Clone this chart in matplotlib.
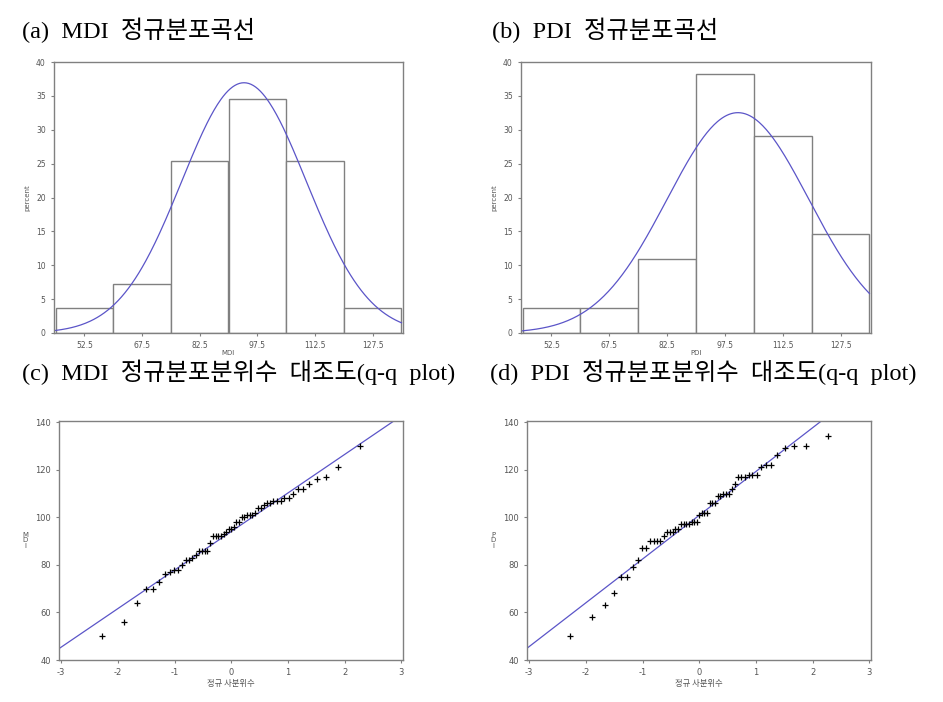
import numpy as np
import matplotlib
matplotlib.use("Agg")
import matplotlib.pyplot as plt

plt.rcParams["axes.unicode_minus"] = False

mdi_values = [50, 56, 64, 70, 70, 73, 76, 77, 78, 78, 80, 82, 82, 83, 84,
              86, 86, 86, 86, 89, 92, 92, 92, 92, 93, 94, 95, 95, 96, 98,
              98, 100, 100, 101, 101, 101, 102, 104, 104, 105, 106, 106, 107, 107, 107,
              108, 108, 110, 112, 112, 114, 116, 117, 121, 130]
pdi_values = [50, 58, 63, 68, 75, 75, 79, 82, 87, 87, 90, 90, 90, 90, 92,
              94, 94, 94, 95, 95, 97, 97, 97, 97, 98, 98, 98, 101, 102, 102,
              102, 106, 106, 106, 109, 109, 110, 110, 110, 112, 114, 117, 117, 117, 118,
              118, 118, 121, 122, 122, 126, 129, 130, 130, 134]
# normal quantiles on the q-q x axis (left half; right half mirrors it)
quant_left = [-2.28, -1.89, -1.67, -1.51, -1.38, -1.27, -1.175, -1.09, -1.01, -0.937,
              -0.869, -0.805, -0.744, -0.685, -0.629, -0.574, -0.522, -0.470, -0.420, -0.371,
              -0.323, -0.276, -0.229, -0.183, -0.137, -0.091, -0.045]
quantiles = quant_left + [0.0] + [-q for q in reversed(quant_left)]

bin_edges = [45, 60, 75, 90, 105, 120, 135]
bin_mids = [52.5, 67.5, 82.5, 97.5, 112.5, 127.5]
hist_yticks = [0, 5, 10, 15, 20, 25, 30, 35, 40]
qq_xticks = [-3, -2, -1, 0, 1, 2, 3]
qq_yticks = [40, 60, 80, 100, 120, 140]

titles = ["(a)  MDI  정규분포곡선", "(b)  PDI  정규분포곡선",
          "(c)  MDI  정규분포분위수  대조도(q-q  plot)", "(d)  PDI  정규분포분위수  대조도(q-q  plot)"]

W, H = 943, 702
CURVE = "#5b55c8"
SPINE = "#808080"
TICK = "#555555"
title_font = ["Liberation Serif", "Noto Sans CJK KR"]


def px_axes(fig, l, t, r, b):
    return fig.add_axes([l / W, 1 - b / H, (r - l) / W, (b - t) / H])


def style(ax, size):
    for s in ax.spines.values():
        s.set_color(SPINE)
        s.set_linewidth(1.0)
    ax.tick_params(colors=SPINE, labelcolor=TICK, labelsize=size, length=2.5, width=0.8)


def hist_panel(ax, values, name):
    vals = np.array(values, dtype=float)
    n = len(vals)
    ax.hist(vals, bins=bin_edges, weights=np.full(n, 100.0 / n),
            facecolor="white", edgecolor=SPINE, linewidth=1.0)
    mu, sd = vals.mean(), vals.std(ddof=1)
    xs = np.linspace(bin_edges[0], bin_edges[-1], 300)
    dens = 100 * 15 / (sd * np.sqrt(2 * np.pi)) * np.exp(-0.5 * ((xs - mu) / sd) ** 2)
    ax.plot(xs, dens, color=CURVE, lw=0.9)
    ax.set_xlim(44.6, 135.4)
    ax.set_ylim(0, 40)
    ax.set_xticks(bin_mids)
    ax.set_xticklabels([str(m) for m in bin_mids])
    ax.set_yticks(hist_yticks)
    style(ax, 5.5)
    ax.set_xlabel(name, fontsize=5, color=TICK, labelpad=0)
    ax.set_ylabel("percent", fontsize=5, color=TICK, labelpad=4)


def qq_panel(ax, values, name):
    vals = np.array(values, dtype=float)
    mu, sd = vals.mean(), vals.std(ddof=1)
    xs = np.array([-3.05, 3.05])
    ax.plot(xs, mu + sd * xs, color=CURVE, lw=0.9)
    ax.plot(quantiles, vals, "+", color="black", ms=5, mew=0.9)
    ax.set_xlim(-3.04, 3.03)
    ax.set_ylim(40, 140.5)
    ax.set_xticks(qq_xticks)
    ax.set_yticks(qq_yticks)
    style(ax, 6)
    ax.set_xlabel("정규 사분위수", fontsize=6, color=TICK, labelpad=1,
                  family=["Noto Sans CJK KR", "DejaVu Sans"])
    ax.set_ylabel("\n".join(name), fontsize=5, color=TICK, rotation=0,
                  labelpad=7, va="center", linespacing=0.9)


fig = plt.figure(figsize=(W / 100, H / 100), dpi=100)
fig.patch.set_facecolor("white")

ax_a = px_axes(fig, 54, 62, 403, 333)
ax_b = px_axes(fig, 521, 62, 871, 333)
ax_c = px_axes(fig, 59, 421, 403, 660)
ax_d = px_axes(fig, 527, 421, 871, 660)

hist_panel(ax_a, mdi_values, "MDI")
hist_panel(ax_b, pdi_values, "PDI")
qq_panel(ax_c, mdi_values, "MDI")
qq_panel(ax_d, pdi_values, "PDI")

title_pos = [(22, 30), (492, 30), (22, 372), (490, 372)]
for (x, y), t in zip(title_pos, titles):
    fig.text(x / W, 1 - y / H, t, fontsize=17.5, family=title_font,
             ha="left", va="center", color="black")

fig.savefig("out.png", dpi=100)
